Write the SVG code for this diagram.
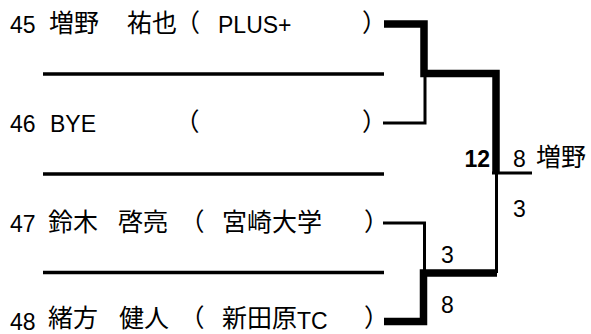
<svg xmlns="http://www.w3.org/2000/svg" width="591" height="334" viewBox="0 0 591 334">
<style>
.lat{font-family:"Liberation Sans",Arial,sans-serif;font-size:23px;fill:#000}
.cjk{font-family:"Noto Sans CJK JP","Liberation Sans",sans-serif;font-size:25px;fill:#000}
.sc{font-family:"Liberation Sans",Arial,sans-serif;font-size:23px;fill:#000}
.b{font-weight:bold}
.thin{stroke:#000;stroke-width:3;fill:none}
.thick{stroke:#000;stroke-width:7.5;fill:none}
.sep{stroke:#000;stroke-width:3.5;fill:none}
</style>
<rect width="591" height="334" fill="#fff"/>
<g id="separators">
<line class="sep" x1="43" y1="74" x2="384" y2="74"/>
<line class="sep" x1="43" y1="174" x2="384" y2="174"/>
<line class="sep" x1="43" y1="272.5" x2="384" y2="272.5"/>
</g>
<g id="player45">
<text class="lat" x="10" y="33">45</text>
<text class="cjk" x="49" y="32">増野</text>
<text class="cjk" x="127" y="32">祐也<tspan dx="-2">（</tspan></text>
<text class="lat" x="218" y="33">PLUS+</text>
<text class="cjk" x="362" y="32">）</text>
</g>
<g id="player46">
<text class="lat" x="10" y="132">46</text>
<text class="lat" x="50" y="132">BYE</text>
<text class="cjk" x="174.5" y="131">（</text>
<text class="cjk" x="362" y="131">）</text>
</g>
<g id="player47">
<text class="lat" x="10" y="232">47</text>
<text class="cjk" x="48" y="231">鈴木</text>
<text class="cjk" x="118" y="231">啓亮</text>
<text class="cjk" x="179.5" y="231">（</text>
<text class="cjk" x="222" y="231">宮崎大学</text>
<text class="cjk" x="364" y="231">）</text>
</g>
<g id="player48">
<text class="lat" x="10" y="329.5">48</text>
<text class="cjk" x="48" y="326.8">緒方</text>
<text class="cjk" x="119" y="326.8">健人</text>
<text class="cjk" x="179.5" y="326.8">（</text>
<text class="cjk" x="222" y="326.8">新田原</text>
<text class="lat" x="297" y="329">TC</text>
<text class="cjk" x="364" y="326.8">）</text>
</g>
<g id="connectors">
<path class="thick" d="M384 24 H424 V73.5 H496 V173"/>
<path class="thin" d="M383 123 H425 V77"/>
<path class="thin" d="M492 173 H532"/>
<path class="thin" d="M496.5 173 V273"/>
<path class="thin" d="M383 223 H424.5 V270"/>
<path class="thick" d="M384 321.5 H423.5 V273 H497"/>
</g>
<g id="scores">
<text class="sc b" x="490" y="167" text-anchor="end">12</text>
<text class="sc" x="513" y="217">3</text>
<text class="sc" x="441" y="263">3</text>
<text class="sc" x="441" y="313">8</text>
</g>
<g id="winner">
<text class="sc" x="513" y="167">8</text>
<text class="cjk" x="536" y="166">増野</text>
</g>
</svg>
